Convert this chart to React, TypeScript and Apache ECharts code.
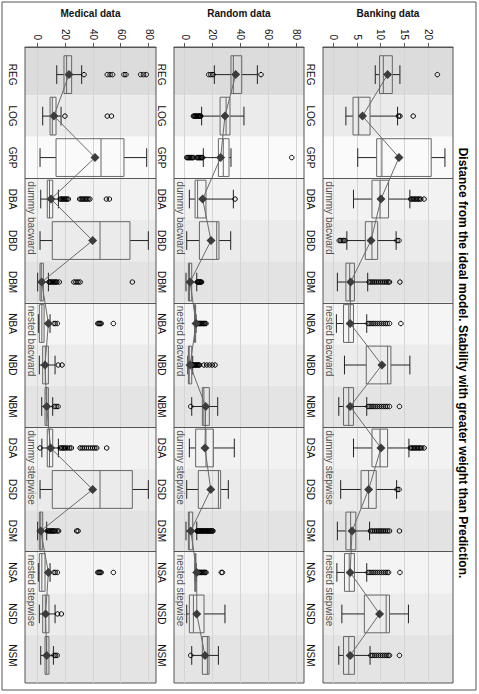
import React, { useEffect, useRef } from 'react';
import * as echarts from 'echarts';

// ---------------- data ----------------
const categories = ['REG', 'LOG', 'GRP', 'DBA', 'DBD', 'DBM', 'NBA', 'NBD', 'NBM', 'DSA', 'DSD', 'DSM', 'NSA', 'NSD', 'NSM'];
const groupLabels = ['dummy bacward', 'nested bacward', 'dummy stepwise', 'nested stepwise'];
const groupStarts = [2.5, 5.5, 8.5, 11.5];
const panelNames = ['Banking data', 'Random data', 'Medical data'];
const bankingTicks = [0, 5, 10, 15, 20];
const randomTicks = [0, 20, 40, 60, 80];
const medicalTicks = [0, 20, 40, 60, 80];
const titleText = 'Distance from the ideal model. Stability with greater weight than Prediction.';

// Banking data
const bankLow = [8.8, 2.6, 5.1, 4.2, 2.8, 0.8, 0.6, 2.3, 1.1, 4.2, 1.5, 0.8, 0.7, 1.75, 1.1];
const bankQ1 = [9.7, 4.1, 9.1, 8.1, 6.7, 2.6, 2.1, 6.9, 2.1, 8.1, 5.8, 2.6, 2.3, 6.5, 2.1];
const bankMed = [10.5, 5.3, 10.2, 9.8, 8.1, 3.4, 3.2, 11.4, 3.2, 9.8, 7.4, 3.6, 3.3, 11.1, 3.2];
const bankQ3 = [12.4, 7.7, 20.6, 11.6, 9.3, 4.4, 4.2, 12.1, 4.2, 11.4, 9.0, 4.7, 4.4, 11.8, 4.4];
const bankHigh = [14.0, 13.5, 23.5, 16.1, 13.2, 7.2, 7.0, 16.1, 7.0, 15.9, 13.3, 7.6, 7.0, 15.8, 7.7];
const bankMean = [11.4, 6.1, 13.8, 10.0, 7.9, 3.6, 3.5, 10.2, 3.5, 10.0, 7.4, 3.9, 3.5, 9.7, 3.5];
const bankOut: number[][] = [
  [21.9], [13.7, 14.0, 16.8], [],
  [16.3, 16.6, 16.9, 17.2, 17.5, 17.8, 18.1, 18.4, 19.1],
  [1.2, 1.5, 1.8, 2.1, 2.4, 13.4, 13.8],
  [7.5, 7.9, 8.3, 8.7, 9.1, 9.5, 9.9, 10.3, 10.7, 11.1, 11.5, 11.8, 14.0],
  [7.3, 7.7, 8.1, 8.5, 8.9, 9.3, 9.7, 10.1, 10.5, 10.9, 11.3, 11.8, 14.2],
  [],
  [7.3, 7.7, 8.1, 8.5, 8.9, 9.3, 9.7, 10.1, 10.5, 10.9, 11.3, 11.8, 13.9],
  [16.2, 16.5, 16.8, 17.1, 17.4, 17.7, 18.0, 18.3, 18.6, 19.1],
  [13.4, 13.8],
  [7.8, 8.2, 8.6, 9.0, 9.4, 9.8, 10.2, 10.6, 11.0, 11.4, 11.8, 13.9],
  [7.3, 7.7, 8.1, 8.5, 8.9, 9.3, 9.7, 10.1, 10.5, 10.9, 11.3, 11.6, 14.0],
  [],
  [7.9, 8.3, 8.7, 9.1, 9.5, 9.9, 10.3, 10.7, 11.1, 11.5, 11.8, 13.9],
];

// Random data
const randLow = [21.0, 11.9, 13.1, 3.1, 1.2, 0.7, 6.9, 2.0, 4.8, 3.1, 1.2, 0.7, 7.2, 1.2, 4.8];
const randQ1 = [32.9, 25.1, 23.9, 7.2, 10.3, 2.4, 6.8, 2.4, 12.4, 7.6, 9.5, 2.4, 7.0, 3.1, 12.4];
const randMed = [34.6, 29.4, 27.4, 9.0, 22.7, 3.2, 7.2, 3.0, 13.5, 15.0, 23.9, 3.0, 7.4, 6.0, 16.0];
const randQ3 = [40.6, 32.2, 31.5, 15.0, 24.3, 4.8, 7.6, 4.8, 17.4, 20.3, 25.5, 5.5, 7.8, 13.6, 17.2];
const randHigh = [51.8, 42.2, 32.9, 34.6, 32.7, 8.4, 7.9, 5.5, 23.4, 35.3, 31.0, 8.4, 8.0, 28.6, 23.9];
const randMean = [36.3, 28.6, 25.5, 12.6, 18.6, 3.6, 7.9, 3.6, 14.8, 14.3, 18.4, 4.1, 8.4, 8.4, 14.3];
const randOut: number[][] = [
  [17.0, 18.5, 20.0, 54.4],
  [6.0, 6.6, 7.2, 7.8, 8.4, 9.0, 9.6, 10.2, 10.8, 11.2],
  [1.2, 1.8, 2.4, 3.0, 3.6, 4.2, 4.8, 5.4, 6.0, 8.4, 9.0, 9.6, 10.2, 10.8, 11.4, 12.0, 12.6, 76.4],
  [35.8],
  [],
  [8.8, 9.3, 9.8, 10.3, 10.8, 11.3, 11.8],
  [8.4, 9.0, 9.6, 10.2, 10.8, 11.4, 12.0, 12.6, 13.2, 13.8, 14.4, 15.0],
  [5.0, 5.6, 6.2, 6.8, 7.4, 8.0, 8.6, 9.2, 9.8, 10.4, 13.5, 15.5, 17.5, 19.5, 21.5],
  [4.1],
  [],
  [],
  [8.6, 9.2, 9.8, 10.4, 11.0, 11.6, 12.2, 12.8, 13.4, 14.0, 14.6, 15.2, 15.8, 16.4, 17.0, 17.6, 18.2, 18.8, 19.4, 20.0],
  [8.4, 9.0, 9.6, 10.2, 10.8, 11.4, 12.0, 12.6, 13.2, 13.8, 14.4, 15.0, 26.0, 26.8],
  [],
  [4.1],
];

// Medical data
const medLow = [13.7, 3.6, 1.7, 2.2, 1.7, 0.0, 0.5, 1.2, 2.9, 3.0, 1.7, 0.0, 0.5, 1.2, 2.2];
const medQ1 = [18.9, 8.9, 13.2, 6.9, 10.5, 1.7, 1.2, 3.6, 5.3, 6.9, 10.5, 1.2, 1.2, 3.6, 5.3];
const medMed = [20.8, 10.5, 45.5, 8.5, 44.8, 2.6, 3.0, 5.5, 6.5, 8.5, 44.8, 2.2, 3.0, 5.5, 6.5];
const medQ3 = [24.4, 13.2, 62.0, 10.8, 66.3, 4.1, 4.6, 7.7, 7.7, 10.8, 68.0, 3.6, 5.3, 8.1, 8.1];
const medHigh = [31.6, 16.8, 78.3, 14.9, 79.5, 7.7, 8.9, 12.5, 10.8, 14.9, 79.5, 6.5, 8.9, 12.5, 11.3];
const medMean = [22.5, 11.7, 41.2, 9.6, 39.5, 2.9, 7.7, 5.3, 6.5, 9.3, 39.5, 2.2, 7.7, 5.7, 6.5];
const medOut: number[][] = [
  [33.3, 50.0, 52.0, 53.8, 62.0, 63.4, 74.0, 76.0, 78.0],
  [19.6, 50.0, 53.0],
  [],
  [16.2, 17.0, 17.8, 18.6, 19.4, 20.2, 21.0, 22.0, 30.2, 31.2, 32.2, 33.2, 34.2, 35.2, 36.2, 37.5, 49.4, 51.5],
  [],
  [8.2, 9.0, 9.8, 10.6, 11.4, 12.2, 13.0, 13.8, 15.5, 26.0, 27.5, 29.0, 30.5, 68.0],
  [11.7, 12.6, 14.1, 43.2, 43.8, 44.4, 45.0, 45.6, 54.4],
  [14.8, 17.5],
  [12.0, 13.2, 14.6],
  [1.7, 16.2, 17.2, 18.2, 19.2, 20.2, 21.5, 23.0, 24.2, 30.5, 32.0, 33.5, 35.0, 36.5, 38.0, 39.5, 41.0, 42.4, 49.6],
  [],
  [7.0, 7.8, 8.6, 9.4, 10.2, 11.0, 11.8, 12.6, 14.0, 15.0, 28.0, 29.0],
  [11.7, 12.6, 14.1, 43.2, 43.8, 44.4, 45.0, 45.6, 54.4],
  [14.3, 17.0],
  [11.8, 12.8, 14.0],
];

const bandColors = ['#dcdcdc', '#ebebeb', '#fafafa', '#f2f2f2', '#ebebeb', '#e3e3e3', '#f5f5f5', '#ececec', '#e4e4e4', '#f2f2f2', '#ebebeb', '#e3e3e3', '#f4f4f4', '#ececec', '#e4e4e4'];

// ---------------- layout ----------------
const W = 694;
const H = 479;
const FONT = '"Liberation Sans", Arial, sans-serif';
const XMIN = -0.665;
const XMAX = 14.665;
const BOX_W = 0.91;
const CAP_W = 0.45;

const panels = [
  { name: panelNames[0], ticks: bankingTicks, low: bankLow, q1: bankQ1, med: bankMed, q3: bankQ3, high: bankHigh, mean: bankMean, out: bankOut, top: 26, height: 130, min: -2.23, max: 25.2 },
  { name: panelNames[1], ticks: randomTicks, low: randLow, q1: randQ1, med: randMed, q3: randQ3, high: randHigh, mean: randMean, out: randOut, top: 175, height: 130, min: -7.9, max: 85.2 },
  { name: panelNames[2], ticks: medicalTicks, low: medLow, q1: medQ1, med: medMed, q3: medQ3, high: medHigh, mean: medMean, out: medOut, top: 323, height: 131, min: -9.1, max: 85.0 },
];

function buildOption() {
  const grid: any[] = [];
  const xAxis: any[] = [];
  const yAxis: any[] = [];
  const series: any[] = [];

  panels.forEach((p, pi) => {
    grid.push({ left: 42, top: p.top, width: 641, height: p.height, show: true, borderColor: '#555', borderWidth: 1, backgroundColor: 'transparent' });
    xAxis.push({
      type: 'value', gridIndex: pi, min: XMIN, max: XMAX, position: 'bottom',
      axisLine: { show: false, onZero: false }, axisTick: { show: false }, splitLine: { show: false },
      axisLabel: {
        customValues: categories.map((_, i) => i),
        formatter: (v: number) => categories[Math.round(v)],
        fontSize: 10, color: '#111', margin: 8, fontFamily: FONT,
      },
    });
    yAxis.push({
      type: 'value', gridIndex: pi, min: p.min, max: p.max, position: 'left',
      name: p.name, nameLocation: 'middle', nameGap: 24, nameRotate: 90,
      nameTextStyle: { fontWeight: 'bold', fontSize: 10, color: '#111', fontFamily: FONT },
      axisLine: { show: true, onZero: false, lineStyle: { color: '#555' } },
      axisTick: { show: true, length: 4, customValues: p.ticks, lineStyle: { color: '#555' } },
      axisLabel: { customValues: p.ticks, fontSize: 10, color: '#111', margin: 7, fontFamily: FONT },
      splitLine: { show: true, lineStyle: { color: '#d4d4d4', width: 1 } },
    });

    // background bands per category
    series.push({
      type: 'custom', xAxisIndex: pi, yAxisIndex: pi, z: -1, silent: true, clip: false,
      data: categories.map((_, i) => [i, 0]),
      renderItem: (params: any, api: any) => {
        const i = api.value(0);
        const x0 = i === 0 ? XMIN : i - 0.5;
        const x1 = i === categories.length - 1 ? XMAX : i + 0.5;
        const a = api.coord([x0, p.min]);
        const b = api.coord([x1, p.max]);
        return { type: 'rect', shape: { x: a[0], y: b[1], width: b[0] - a[0], height: a[1] - b[1] }, style: { fill: bandColors[i] } };
      },
    });

    // boxes and whiskers
    series.push({
      type: 'custom', xAxisIndex: pi, yAxisIndex: pi, z: 2, silent: true,
      data: categories.map((_, i) => [i, p.low[i], p.q1[i], p.med[i], p.q3[i], p.high[i]]),
      encode: { x: 0, y: [1, 2, 3, 4, 5] },
      renderItem: (params: any, api: any) => {
        const i = api.value(0);
        const c = (v: number) => api.coord([i, v]);
        const bw = api.size([BOX_W, 0])[0];
        const cw = api.size([CAP_W, 0])[0];
        const pl = c(api.value(1));
        const pq1 = c(api.value(2));
        const pm = c(api.value(3));
        const pq3 = c(api.value(4));
        const ph = c(api.value(5));
        const x = pl[0];
        const wh = { stroke: '#222', lineWidth: 1 };
        const bx = { stroke: '#666', lineWidth: 1, fill: 'none' };
        return {
          type: 'group',
          children: [
            { type: 'line', shape: { x1: x, y1: pq1[1], x2: x, y2: pl[1] }, style: wh },
            { type: 'line', shape: { x1: x, y1: pq3[1], x2: x, y2: ph[1] }, style: wh },
            { type: 'line', shape: { x1: x - cw / 2, y1: pl[1], x2: x + cw / 2, y2: pl[1] }, style: wh },
            { type: 'line', shape: { x1: x - cw / 2, y1: ph[1], x2: x + cw / 2, y2: ph[1] }, style: wh },
            { type: 'rect', shape: { x: x - bw / 2, y: pq3[1], width: bw, height: pq1[1] - pq3[1] }, style: bx },
            { type: 'line', shape: { x1: x - bw / 2, y1: pm[1], x2: x + bw / 2, y2: pm[1] }, style: { stroke: '#666', lineWidth: 1 } },
          ],
        };
      },
      markLine: {
        silent: true, symbol: 'none', label: { show: false },
        lineStyle: { color: '#555', width: 1, type: 'solid' },
        data: groupStarts.map((v) => ({ xAxis: v })),
      },
    });

    // outliers
    const outData: number[][] = [];
    p.out.forEach((arr, i) => arr.forEach((v) => outData.push([i, v])));
    series.push({
      type: 'scatter', xAxisIndex: pi, yAxisIndex: pi, z: 3, silent: true,
      symbol: 'circle', symbolSize: 4.5,
      itemStyle: { color: 'rgba(0,0,0,0)', borderColor: '#000', borderWidth: 1, opacity: 1 },
      data: outData,
    });

    // mean line with diamonds
    series.push({
      type: 'line', xAxisIndex: pi, yAxisIndex: pi, z: 4, silent: true,
      symbol: 'diamond', symbolSize: 9, showSymbol: true,
      itemStyle: { color: '#3c3c3c', borderWidth: 0 },
      lineStyle: { color: '#6a6a6a', width: 1 },
      data: p.mean.map((m, i) => [i, m]),
    });

    // group labels
    series.push({
      type: 'scatter', xAxisIndex: pi, yAxisIndex: pi, z: 5, silent: true, clip: false,
      symbolSize: 0,
      data: groupStarts.map((v, k) => ({ value: [v, p.min], name: groupLabels[k] })),
      label: {
        show: true, formatter: '{b}', position: [3, -1], align: 'left', verticalAlign: 'bottom',
        fontSize: 10, color: '#222', fontFamily: FONT,
      },
    });
  });

  return {
    animation: false,
    backgroundColor: '#ffffff',
    textStyle: { fontFamily: FONT },
    grid, xAxis, yAxis, series,
    graphic: [
      { type: 'rect', shape: { x: 2, y: 3, width: 688, height: 474 }, style: { fill: 'none', stroke: '#555', lineWidth: 1 }, silent: true },
      { type: 'text', x: 363, y: 16, style: { text: titleText, fontSize: 12, fontWeight: 'bold', fill: '#000', fontFamily: FONT, textAlign: 'center', textVerticalAlign: 'middle' }, silent: true },
    ],
  };
}

export default function App() {
  const ref = useRef<HTMLDivElement>(null);
  useEffect(() => {
    document.body.style.overflow = 'hidden';
    if (!ref.current) return;
    const chart = echarts.init(ref.current, undefined, { renderer: 'svg', width: W, height: H });
    chart.setOption(buildOption() as any);
    return () => chart.dispose();
  }, []);
  return (
    <div
      ref={ref}
      style={{
        position: 'absolute', left: 0, top: 0, width: W, height: H,
        transformOrigin: '0 0', transform: `translate(${H}px, 0px) rotate(90deg)`,
        background: '#fff',
      }}
    />
  );
}
